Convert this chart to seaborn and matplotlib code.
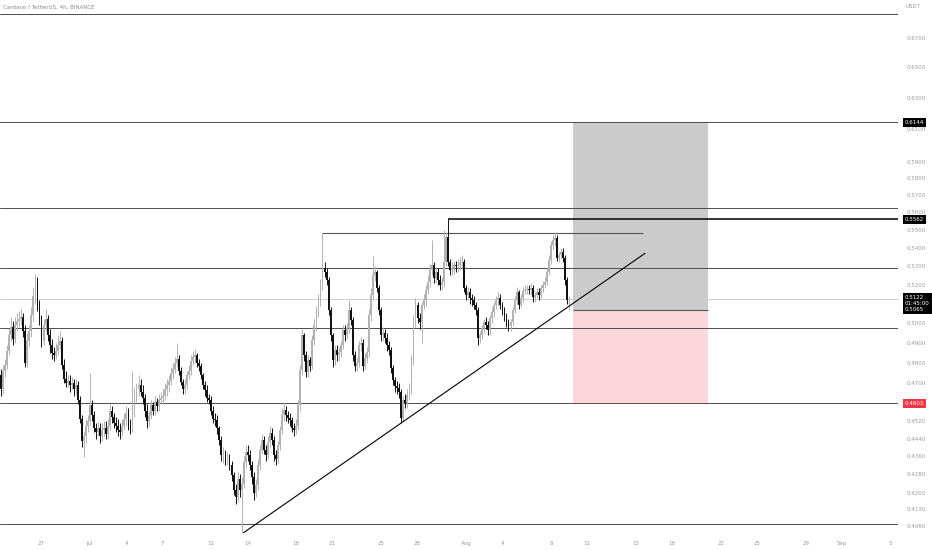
import numpy as np
import pandas as pd
import matplotlib
matplotlib.use("Agg")
import matplotlib.pyplot as plt
import matplotlib.dates as mdates
import matplotlib.ticker as mticker
import matplotlib.transforms as mtrans
import seaborn as sns

# ---- data ----
first_open = 0.4740
closes = [
    0.4670, 0.4760,
    0.4790, 0.4860, 0.4940, 0.4980, 0.4920, 0.4990,
    0.5010, 0.5020, 0.5030, 0.4960, 0.4800, 0.4910,
    0.4960, 0.5040, 0.5140, 0.5210, 0.5090, 0.5020,
    0.4910, 0.4990, 0.5020, 0.4940, 0.4890, 0.4850,
    0.4840, 0.4860, 0.4890, 0.4910, 0.4790, 0.4720,
    0.4700, 0.4710, 0.4690, 0.4700, 0.4670, 0.4690,
    0.4620, 0.4530, 0.4430, 0.4450, 0.4500, 0.4520,
    0.4595, 0.4550, 0.4490, 0.4470, 0.4490, 0.4450,
    0.4480, 0.4490, 0.4460, 0.4500, 0.4570, 0.4540,
    0.4510, 0.4500, 0.4480, 0.4470, 0.4500, 0.4530,
    0.4560, 0.4500, 0.4490, 0.4570, 0.4640, 0.4670,
    0.4690, 0.4660, 0.4630, 0.4570, 0.4520, 0.4550,
    0.4595, 0.4570, 0.4610, 0.4590, 0.4620, 0.4630,
    0.4640, 0.4670, 0.4690, 0.4710, 0.4747, 0.4770,
    0.4800, 0.4820, 0.4760, 0.4705, 0.4670, 0.4690,
    0.4740, 0.4760, 0.4810, 0.4826, 0.4836, 0.4800,
    0.4786, 0.4738, 0.4690, 0.4666, 0.4630, 0.4618,
    0.4570, 0.4530, 0.4524, 0.4487, 0.4432, 0.4365,
    0.4365, 0.4343, 0.4350, 0.4320, 0.4276, 0.4211,
    0.4180, 0.4260, 0.4211, 0.4240, 0.4334, 0.4378,
    0.4365, 0.4320, 0.4267, 0.4198, 0.4232, 0.4320,
    0.4387, 0.4432, 0.4387, 0.4365, 0.4423, 0.4465,
    0.4432, 0.4365, 0.4350, 0.4410, 0.4478, 0.4547,
    0.4571, 0.4547, 0.4533, 0.4524, 0.4487, 0.4478,
    0.4500, 0.4595, 0.4762, 0.4936, 0.4836, 0.4752,
    0.4811, 0.4786, 0.4911, 0.4988, 0.5055, 0.5117,
    0.5196, 0.5288, 0.5266, 0.5223, 0.5065, 0.4936,
    0.4811, 0.4861, 0.4836, 0.4851, 0.4886, 0.4962,
    0.4936, 0.4972, 0.5065, 0.5013, 0.4836, 0.4786,
    0.4800, 0.4886, 0.4900, 0.4786, 0.4821, 0.4851,
    0.5039, 0.5144, 0.5250, 0.5266, 0.5180, 0.5065,
    0.4936, 0.4946, 0.4921, 0.4886, 0.4861, 0.4772,
    0.4714, 0.4685, 0.4675, 0.4656, 0.4533, 0.4618,
    0.4604, 0.4642, 0.4675, 0.4811, 0.5013, 0.5091,
    0.5023, 0.5003, 0.5091, 0.5117, 0.5170, 0.5212,
    0.5277, 0.5304, 0.5234, 0.5266, 0.5223, 0.5196,
    0.5212, 0.5321, 0.5460, 0.5321, 0.5277, 0.5288,
    0.5304, 0.5299, 0.5304, 0.5315, 0.5321, 0.5180,
    0.5144, 0.5160, 0.5128, 0.5117, 0.5091, 0.5065,
    0.4921, 0.4936, 0.4972, 0.5003, 0.4988, 0.4962,
    0.5023, 0.5055, 0.5091, 0.5117, 0.5128, 0.5091,
    0.5065, 0.5029, 0.5003, 0.4982, 0.5003, 0.5065,
    0.5117, 0.5160, 0.5091, 0.5128, 0.5165, 0.5170,
    0.5175, 0.5170, 0.5180, 0.5133, 0.5144, 0.5160,
    0.5144, 0.5180, 0.5196, 0.5212, 0.5266, 0.5332,
    0.5415, 0.5443, 0.5454, 0.5343, 0.5359, 0.5376,
    0.5343, 0.5223, 0.5117, 0.5122,
]
highs = [
    0.4770, 0.4790,
    0.4820, 0.4890, 0.4970, 0.5030, 0.5010, 0.5030,
    0.5050, 0.5060, 0.5070, 0.5050, 0.4990, 0.4950,
    0.4990, 0.5080, 0.5190, 0.5255, 0.5240, 0.5120,
    0.5040, 0.5020, 0.5070, 0.5040, 0.4970, 0.4920,
    0.4880, 0.4900, 0.4940, 0.4960, 0.4930, 0.4820,
    0.4760, 0.4740, 0.4740, 0.4730, 0.4720, 0.4720,
    0.4710, 0.4640, 0.4550, 0.4470, 0.4530, 0.4550,
    0.4750, 0.4620, 0.4570, 0.4510, 0.4520, 0.4510,
    0.4510, 0.4520, 0.4520, 0.4530, 0.4600, 0.4590,
    0.4560, 0.4540, 0.4530, 0.4510, 0.4530, 0.4560,
    0.4590, 0.4580, 0.4530, 0.4760, 0.4680, 0.4700,
    0.4740, 0.4720, 0.4690, 0.4650, 0.4600, 0.4570,
    0.4620, 0.4610, 0.4640, 0.4630, 0.4650, 0.4660,
    0.4670, 0.4700, 0.4720, 0.4740, 0.4780, 0.4800,
    0.4830, 0.4900, 0.4840, 0.4780, 0.4720, 0.4720,
    0.4760, 0.4790, 0.4840, 0.4860, 0.4870, 0.4850,
    0.4820, 0.4800, 0.4750, 0.4710, 0.4690, 0.4650,
    0.4640, 0.4590, 0.4560, 0.4550, 0.4500, 0.4450,
    0.4400, 0.4390, 0.4380, 0.4370, 0.4340, 0.4290,
    0.4240, 0.4290, 0.4280, 0.4270, 0.4360, 0.4410,
    0.4410, 0.4390, 0.4340, 0.4290, 0.4260, 0.4350,
    0.4410, 0.4460, 0.4450, 0.4410, 0.4450, 0.4500,
    0.4490, 0.4450, 0.4390, 0.4430, 0.4500, 0.4580,
    0.4610, 0.4590, 0.4570, 0.4560, 0.4540, 0.4510,
    0.4530, 0.4620, 0.4790, 0.4970, 0.4950, 0.4860,
    0.4840, 0.4830, 0.4940, 0.5020, 0.5090, 0.5150,
    0.5230, 0.5482, 0.5320, 0.5290, 0.5240, 0.5080,
    0.4950, 0.4890, 0.4890, 0.4880, 0.4910, 0.4990,
    0.4990, 0.5000, 0.5117, 0.5080, 0.5030, 0.4860,
    0.4830, 0.4910, 0.4930, 0.4920, 0.4850, 0.4880,
    0.5070, 0.5180, 0.5356, 0.5300, 0.5280, 0.5200,
    0.5080, 0.4980, 0.4970, 0.4950, 0.4910, 0.4880,
    0.4790, 0.4730, 0.4710, 0.4700, 0.4670, 0.4640,
    0.4650, 0.4670, 0.4700, 0.4840, 0.5040, 0.5130,
    0.5110, 0.5050, 0.5110, 0.5150, 0.5200, 0.5250,
    0.5310, 0.5443, 0.5320, 0.5290, 0.5290, 0.5250,
    0.5240, 0.5500, 0.5490, 0.5562, 0.5340, 0.5320,
    0.5330, 0.5330, 0.5340, 0.5350, 0.5360, 0.5340,
    0.5200, 0.5190, 0.5180, 0.5150, 0.5140, 0.5110,
    0.5080, 0.4960, 0.4990, 0.5020, 0.5030, 0.5010,
    0.5040, 0.5080, 0.5110, 0.5140, 0.5160, 0.5150,
    0.5110, 0.5080, 0.5050, 0.5020, 0.5020, 0.5080,
    0.5140, 0.5190, 0.5170, 0.5150, 0.5190, 0.5200,
    0.5200, 0.5200, 0.5210, 0.5200, 0.5160, 0.5180,
    0.5180, 0.5200, 0.5220, 0.5240, 0.5290, 0.5360,
    0.5440, 0.5470, 0.5488, 0.5470, 0.5380, 0.5400,
    0.5400, 0.5360, 0.5240, 0.5140,
]
lows = [
    0.4640, 0.4650,
    0.4730, 0.4770, 0.4840, 0.4910, 0.4890, 0.4900,
    0.4960, 0.4980, 0.4990, 0.4930, 0.4780, 0.4780,
    0.4880, 0.4930, 0.5010, 0.5100, 0.5060, 0.4990,
    0.4880, 0.4890, 0.4960, 0.4910, 0.4850, 0.4820,
    0.4810, 0.4820, 0.4840, 0.4870, 0.4770, 0.4700,
    0.4680, 0.4680, 0.4660, 0.4670, 0.4640, 0.4650,
    0.4600, 0.4510, 0.4400, 0.4356, 0.4420, 0.4470,
    0.4500, 0.4520, 0.4470, 0.4440, 0.4450, 0.4420,
    0.4430, 0.4450, 0.4440, 0.4440, 0.4480, 0.4510,
    0.4490, 0.4470, 0.4450, 0.4440, 0.4450, 0.4480,
    0.4500, 0.4480, 0.4460, 0.4470, 0.4540, 0.4610,
    0.4640, 0.4640, 0.4600, 0.4540, 0.4490, 0.4500,
    0.4530, 0.4550, 0.4550, 0.4570, 0.4570, 0.4600,
    0.4600, 0.4620, 0.4640, 0.4660, 0.4690, 0.4720,
    0.4750, 0.4780, 0.4740, 0.4690, 0.4650, 0.4650,
    0.4670, 0.4720, 0.4740, 0.4790, 0.4800, 0.4780,
    0.4760, 0.4720, 0.4670, 0.4640, 0.4610, 0.4600,
    0.4550, 0.4510, 0.4500, 0.4460, 0.4410, 0.4340,
    0.4330, 0.4320, 0.4320, 0.4300, 0.4250, 0.4190,
    0.4150, 0.4160, 0.4180, 0.4034, 0.4220, 0.4310,
    0.4340, 0.4300, 0.4240, 0.4170, 0.4180, 0.4210,
    0.4300, 0.4370, 0.4370, 0.4340, 0.4350, 0.4400,
    0.4410, 0.4340, 0.4320, 0.4330, 0.4390, 0.4460,
    0.4520, 0.4520, 0.4510, 0.4500, 0.4470, 0.4450,
    0.4460, 0.4480, 0.4570, 0.4740, 0.4810, 0.4730,
    0.4730, 0.4760, 0.4770, 0.4890, 0.4960, 0.5030,
    0.5090, 0.5170, 0.5240, 0.5200, 0.5040, 0.4910,
    0.4780, 0.4790, 0.4810, 0.4810, 0.4830, 0.4870,
    0.4910, 0.4920, 0.4950, 0.4990, 0.4810, 0.4760,
    0.4760, 0.4780, 0.4860, 0.4760, 0.4770, 0.4800,
    0.4830, 0.5010, 0.5120, 0.5220, 0.5160, 0.5040,
    0.4910, 0.4910, 0.4900, 0.4860, 0.4840, 0.4750,
    0.4690, 0.4660, 0.4650, 0.4630, 0.4510, 0.4520,
    0.4580, 0.4580, 0.4620, 0.4650, 0.4790, 0.4980,
    0.5000, 0.4970, 0.4896, 0.5070, 0.5090, 0.5150,
    0.5190, 0.5250, 0.5210, 0.5210, 0.5200, 0.5170,
    0.5170, 0.5190, 0.5300, 0.5300, 0.5250, 0.5250,
    0.5260, 0.5270, 0.5270, 0.5280, 0.5290, 0.5160,
    0.5120, 0.5120, 0.5100, 0.5090, 0.5070, 0.5040,
    0.4886, 0.4900, 0.4920, 0.4950, 0.4970, 0.4940,
    0.4940, 0.5000, 0.5030, 0.5070, 0.5090, 0.5070,
    0.5040, 0.5010, 0.4980, 0.4960, 0.4960, 0.4990,
    0.5050, 0.5100, 0.5070, 0.5080, 0.5110, 0.5150,
    0.5150, 0.5150, 0.5150, 0.5110, 0.5110, 0.5130,
    0.5120, 0.5130, 0.5160, 0.5180, 0.5200, 0.5250,
    0.5310, 0.5390, 0.5410, 0.5330, 0.5320, 0.5340,
    0.5320, 0.5200, 0.5100, 0.5065,
]
times = pd.date_range("2022-06-23 16:00", periods=len(closes), freq="4h")

# drawn levels
levels = [0.6865, 0.6144, 0.5624, 0.5290, 0.4972, 0.4603, 0.4069]
res_high = 0.5562
res_high_from = "2022-07-30 12:00"
range_top = 0.5482
range_top_span = ["2022-07-20 03:00", "2022-08-15 14:00"]
trend_t = ["2022-07-13 15:00", "2022-08-15 18:00"]
trend_p = [0.4030, 0.5370]
last_price = 0.5122
countdown = "01:45:00"
pos_entry, pos_target, pos_stop = 0.5065, 0.6144, 0.4603
pos_span = ["2022-08-09 20:00", "2022-08-20 22:00"]

# scale labels (the ones hidden under the price tags are left out)
ytick_vals = [0.6700, 0.6500, 0.6300, 0.6100, 0.5900, 0.5800, 0.5700, 0.5600,
              0.5500, 0.5400, 0.5300, 0.5200, 0.5000, 0.4900, 0.4800,
              0.4700, 0.4520, 0.4440, 0.4360, 0.4280, 0.4200, 0.4130,
              0.4060]
xtick_dates = ["2022-06-27", "2022-07-01", "2022-07-04", "2022-07-07", "2022-07-11",
               "2022-07-14", "2022-07-18", "2022-07-21", "2022-07-25", "2022-07-28",
               "2022-08-01", "2022-08-04", "2022-08-08", "2022-08-11", "2022-08-15",
               "2022-08-18", "2022-08-22", "2022-08-25", "2022-08-29", "2022-09-01",
               "2022-09-05"]
xtick_labels = ["27", "Jul", "4", "7", "11", "14", "18", "21", "25", "28", "Aug",
                "4", "8", "11", "15", "18", "22", "25", "29", "Sep", "5"]

# ---- plot ----
sns.set_theme(style="white")
plt.rcParams["font.family"] = ["DejaVu Sans"]

fig = plt.figure(figsize=(9.32, 5.5), dpi=100)
ax = fig.add_axes([0, 17 / 550, 898 / 932, 533 / 550])
ax.set_yscale("log")

c = np.array(closes)
o = np.concatenate([[first_open], c[:-1]])
h = np.array(highs)
lo = np.array(lows)
x = mdates.date2num(times)
up = c >= o
up_col, dn_col = "#b2b2b2", "#111111"
cols = np.where(up, up_col, dn_col)

# position tool boxes
px = mdates.date2num(pd.to_datetime(pos_span))
ax.fill_between(px, pos_entry, pos_target, color="#cbcbcb", lw=0, zorder=0.5)
ax.fill_between(px, pos_stop, pos_entry, color="#fbd6db", lw=0, zorder=0.5)
ax.hlines(pos_entry, px[0], px[1], color="#5a5a5a", lw=0.8, zorder=1)

for lv in levels:
    ax.axhline(lv, color="#4d4d4d", lw=0.7, zorder=1)
ax.axhline(last_price, color="#cfcfcf", lw=0.7, zorder=1)

xmin = mdates.date2num(pd.Timestamp("2022-07-01") - pd.Timedelta(days=90 / 12.13))
xmax = mdates.date2num(pd.Timestamp("2022-07-01") + pd.Timedelta(days=808 / 12.13))
ax.hlines(res_high, mdates.date2num(pd.Timestamp(res_high_from)), xmax,
          color="black", lw=1.1, zorder=1)
rt = mdates.date2num(pd.to_datetime(range_top_span))
ax.hlines(range_top, rt[0], rt[1], color="#555555", lw=0.8, zorder=1)

# candles
ax.vlines(x, lo, h, colors=cols, lw=0.7, zorder=2)
body = np.maximum(np.abs(c - o), 0.0005)
ax.bar(x, body, bottom=np.minimum(o, c), width=0.15, color=cols, lw=0, zorder=3)

# trendline
sns.lineplot(x=mdates.date2num(pd.to_datetime(trend_t)), y=trend_p, ax=ax,
             color="black", lw=0.8, zorder=4)

ax.set_xlim(xmin, xmax)
ax.set_ylim(0.4030, 0.6965)
ax.set_xlabel("")
ax.set_ylabel("")
for s in ax.spines.values():
    s.set_visible(False)

lab_col = "#9a9a9a"
ax.set_xticks(mdates.date2num(pd.to_datetime(xtick_dates)))
ax.set_xticklabels(xtick_labels)
ax.tick_params(axis="x", length=0, pad=5.5, labelsize=4, labelcolor=lab_col)

ax.yaxis.tick_right()
ax.yaxis.set_major_locator(mticker.FixedLocator(ytick_vals))
ax.yaxis.set_major_formatter(mticker.FixedFormatter([f"{v:.4f}" for v in ytick_vals]))
ax.yaxis.set_minor_locator(mticker.NullLocator())
ax.tick_params(axis="y", length=0, pad=6, labelsize=4, labelcolor=lab_col)
ax.grid(False)

# price tags on the scale
trans = mtrans.blended_transform_factory(ax.transAxes, ax.transData)
tag = dict(boxstyle="square,pad=0.35", ec="none")
for val, fc in [(pos_target, "black"), (res_high, "black"), (pos_stop, "#f23645")]:
    ax.annotate(f"{val:.4f}", xy=(1.0, val), xycoords=trans, xytext=(5, 0),
                textcoords="offset points", va="center", ha="left", fontsize=4,
                color="white", bbox=dict(tag, fc=fc), zorder=10, annotation_clip=False)
ax.annotate(f"{last_price:.4f}\n{countdown}\n{pos_entry:.4f}", xy=(1.0, last_price),
            xycoords=trans, xytext=(5, 3.2), textcoords="offset points", va="top",
            ha="left", fontsize=4, color="white", linespacing=1.3,
            bbox=dict(tag, fc="black"), zorder=10, annotation_clip=False)

fig.text(3 / 932, 1 - 7 / 550, "Cardano / TetherUS, 4h, BINANCE", fontsize=4,
         color="#8a8a8a", va="center", ha="left")
fig.text(905 / 932, 1 - 7 / 550, "USDT", fontsize=4, color=lab_col,
         va="center", ha="left")

fig.savefig("out.png", dpi=100)
